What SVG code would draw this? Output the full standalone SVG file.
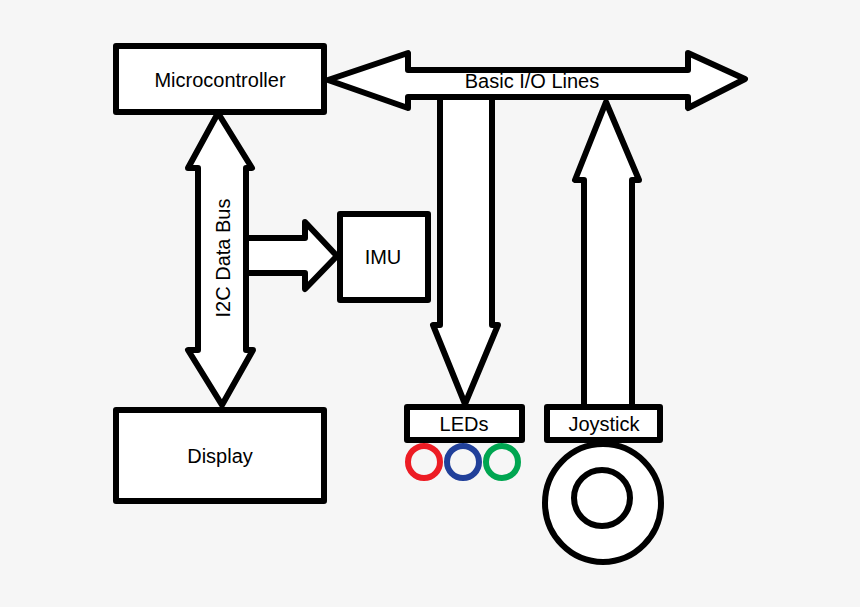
<svg xmlns="http://www.w3.org/2000/svg" width="860" height="607" viewBox="0 0 860 607">
<style>
.b{fill:#fff;stroke:#000;stroke-width:6;stroke-linejoin:round}
.t{font-family:"Liberation Sans",Arial,sans-serif;font-size:20px;fill:#000;text-anchor:middle}
.c{fill:none;stroke-width:6}
</style>
<rect width="860" height="607" fill="#f6f6f6"/>
<g id="connectors">
<polygon class="b" points="328,80 408,53 408,70 688,70 688,53 745,79 688,108 688,97 408,97 408,108"/>
<polygon class="b" points="440,97 492,97 492,325 498,325 465,404 433,325 440,325"/>
<polygon class="b" points="584,408 632,408 632,180 639,180 606,102 575,180 584,180"/>
<polygon class="b" points="246,238 305,238 305,222 337,256 305,289 305,273 246,273"/>
<polygon class="b" points="218,113 252,168 246,168 246,350 253,350 222,405 188,350 198,350 198,168 188,168"/>
<text class="t" transform="translate(230,258) rotate(-90)">I2C Data Bus</text>
<text class="t" x="532" y="88">Basic I/O Lines</text>
</g>
<g id="microcontroller"><rect class="b" x="116" y="46" width="208" height="66"/><text class="t" x="220" y="87">Microcontroller</text></g>
<g id="imu"><rect class="b" x="340" y="214" width="88" height="86"/><text class="t" x="383" y="264">IMU</text></g>
<g id="display"><rect class="b" x="116" y="410" width="208" height="91"/><text class="t" x="220" y="463">Display</text></g>
<g id="leds"><rect class="b" x="407" y="407" width="115" height="33"/><text class="t" x="464" y="431">LEDs</text>
<circle class="c" cx="424" cy="462" r="16" stroke="#ed1c24"/><circle class="c" cx="463" cy="462" r="16" stroke="#21409a"/><circle class="c" cx="502" cy="462" r="16" stroke="#00a651"/></g>
<g id="joystick"><rect class="b" x="547" y="407" width="113" height="33"/><text class="t" x="604" y="431">Joystick</text>
<ellipse class="b" cx="603" cy="503" rx="58" ry="59"/><circle class="b" cx="602" cy="498" r="28"/></g>
</svg>
